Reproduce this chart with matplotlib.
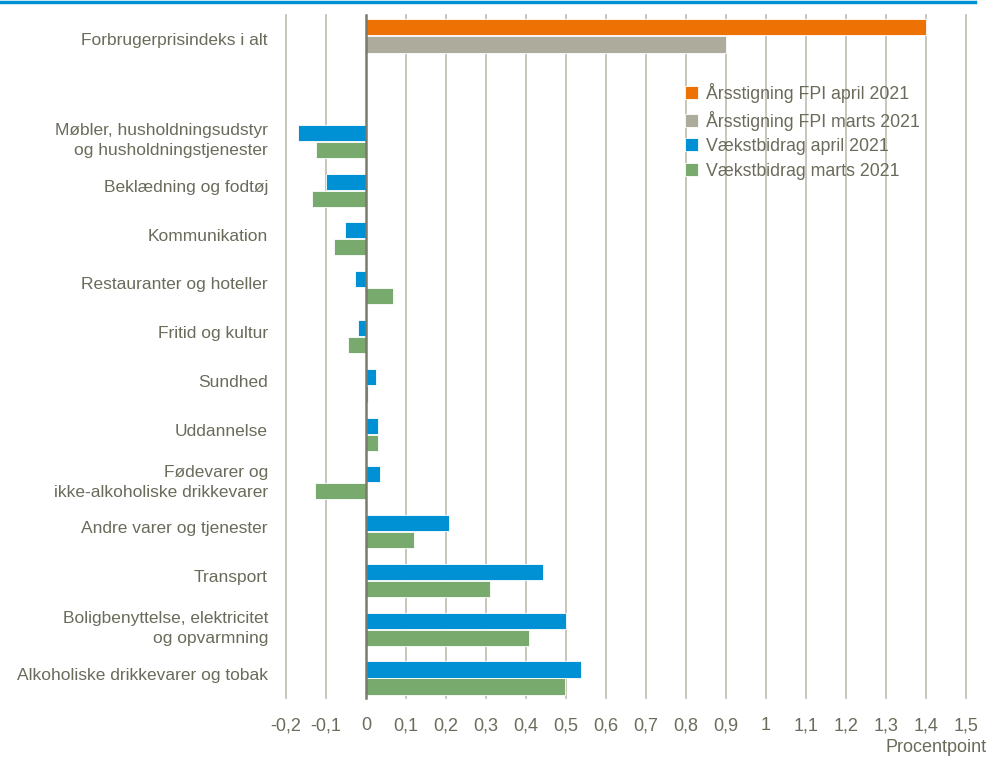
import matplotlib
matplotlib.use("Agg")
import matplotlib.pyplot as plt
from matplotlib import font_manager
import numpy as np

# ---- data ----
categories = [
    "Forbrugerprisindeks i alt",
    "",
    "Møbler, husholdningsudstyr\nog husholdningstjenester",
    "Beklædning og fodtøj",
    "Kommunikation",
    "Restauranter og hoteller",
    "Fritid og kultur",
    "Sundhed",
    "Uddannelse",
    "Fødevarer og\nikke-alkoholiske drikkevarer",
    "Andre varer og tjenester",
    "Transport",
    "Boligbenyttelse, elektricitet\nog opvarmning",
    "Alkoholiske drikkevarer og tobak",
]
fpi_april = [1.40]
fpi_marts = [0.90]
vb_april = [-0.17, -0.10, -0.053, -0.028, -0.02, 0.025, 0.03, 0.036, 0.207, 0.443, 0.50, 0.538]
vb_marts = [-0.126, -0.134, -0.08, 0.068, -0.046, 0.004, 0.03, -0.127, 0.12, 0.31, 0.408, 0.497]
xticks = [round(-0.2 + 0.1 * i, 1) for i in range(18)]
series_names = ["Årsstigning FPI april 2021", "Årsstigning FPI marts 2021",
                "Vækstbidrag april 2021", "Vækstbidrag marts 2021"]

# ---- style ----
names = {f.name for f in font_manager.fontManager.ttflist}
narrow = "Liberation Sans Narrow" in names
fam = "Liberation Sans Narrow" if narrow else "Liberation Sans"
plt.rcParams["font.family"] = [fam, "DejaVu Sans"]
fs_y = 14 if narrow else 12.5
fs_x = 14 if narrow else 13
fs_leg = 14 if narrow else 12.8
txt = "#6B6B5B"
c_orange, c_gray, c_blue, c_green = "#EE7203", "#ADAB9C", "#0091D4", "#78AA6E"

fig = plt.figure(figsize=(9.9, 7.58), dpi=100)
ax = fig.add_axes([286 / 990, 1 - 698 / 758, (966 - 286) / 990, (698 - 15) / 758])

n = len(categories)
ypos = np.arange(n)
h = 0.33
ax.barh(ypos[0] - 0.254, fpi_april, height=h, color=c_orange, edgecolor="white", linewidth=0.6, label=series_names[0], zorder=3)
ax.barh(ypos[0] + 0.105, fpi_marts, height=h, color=c_gray, edgecolor="white", linewidth=0.6, label=series_names[1], zorder=3)
ax.barh(ypos[2:] - 0.084, vb_april, height=h, color=c_blue, edgecolor="white", linewidth=0.6, label=series_names[2], zorder=3)
ax.barh(ypos[2:] + 0.264, vb_marts, height=h, color=c_green, edgecolor="white", linewidth=0.6, label=series_names[3], zorder=3)

ax.set_ylim(n - 0.5, -0.5)
ax.set_xlim(-0.2, 1.5)
for xt in xticks:
    ax.axvline(xt, color="#7A7A6A" if xt == 0 else "#C4C2B4",
               lw=1.8 if xt == 0 else 1.3, zorder=4 if xt == 0 else 1, clip_on=False)

for s in ax.spines.values():
    s.set_visible(False)
ax.set_xticks(xticks)
ax.set_xticklabels([("%g" % t).replace(".", ",") for t in xticks], fontsize=fs_x, color=txt)
ax.set_yticks(ypos)
ax.set_yticklabels(categories, fontsize=fs_y, color=txt, linespacing=1.4)
ax.tick_params(axis="both", length=0)
ax.tick_params(axis="x", pad=14)
ax.tick_params(axis="y", pad=13)

fig.text(987 / 990, 1 - 748 / 758, "Procentpoint", ha="right", va="center", fontsize=fs_x, color=txt)

leg = ax.legend(loc="upper left", bbox_to_anchor=((678 - 286) / 680, 1 - (76 - 15) / 683),
                frameon=False, fontsize=fs_leg, handlelength=0.75, handleheight=0.75,
                handletextpad=0.4, labelspacing=0.42, borderaxespad=0)
for t in leg.get_texts():
    t.set_color(txt)

fig.add_artist(plt.Line2D([0, 975 / 990], [1 - 1.5 / 758] * 2, color="#0091D4", lw=2.5,
                          transform=fig.transFigure))

fig.savefig("out.png", dpi=100)
